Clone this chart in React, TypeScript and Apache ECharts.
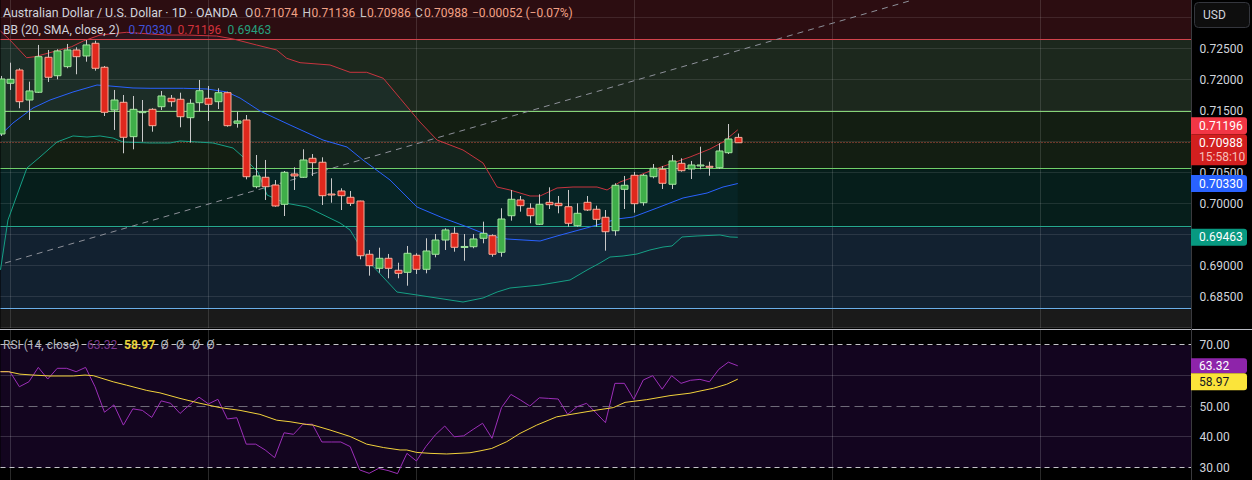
import React, { useEffect, useRef } from "react";
import * as echarts from "echarts";

// ---------- DATA ----------
const opens = [
  0.71129, 0.71947, 0.72161, 0.71677, 0.71802, 0.72366, 0.72069, 0.72215, 0.72484, 0.72387,
  0.72592, 0.72205, 0.71516, 0.7164, 0.71086, 0.71476, 0.71527, 0.71569, 0.71705, 0.71689,
  0.71392, 0.71634, 0.71705, 0.7165, 0.71795, 0.71302, 0.71355, 0.70279, 0.70431, 0.70306,
  0.69995, 0.70484, 0.70431, 0.70737, 0.70673, 0.70161, 0.7021, 0.70108, 0.70048, 0.69189,
  0.68963, 0.69124, 0.68931, 0.68898, 0.69173, 0.68947, 0.69189, 0.69419, 0.69527, 0.69306,
  0.69311, 0.69447, 0.69489, 0.69221, 0.69811, 0.70065, 0.69931, 0.69673, 0.70027, 0.70011,
  0.69956, 0.6965, 0.70027, 0.69915, 0.69786, 0.69569, 0.70237, 0.70463, 0.70021, 0.7044,
  0.7056, 0.70318, 0.70656, 0.70565, 0.70624, 0.70608, 0.70585, 0.70827, 0.71074,
];
const highs = [
  0.72065, 0.72279, 0.72189, 0.71973, 0.72565, 0.72484, 0.72495, 0.72581, 0.72527, 0.72645,
  0.72634, 0.72226, 0.71839, 0.71758, 0.71742, 0.71677, 0.71544, 0.71823, 0.71758, 0.71795,
  0.71689, 0.72, 0.71903, 0.71866, 0.71811, 0.71489, 0.71435, 0.7079, 0.7071, 0.70387,
  0.70532, 0.70592, 0.70882, 0.70806, 0.70753, 0.70414, 0.70253, 0.7021, 0.70053, 0.69258,
  0.69295, 0.69194, 0.69053, 0.69323, 0.69205, 0.69447, 0.69516, 0.69608, 0.69624, 0.69516,
  0.69516, 0.69715, 0.69511, 0.69931, 0.70226, 0.70129, 0.70011, 0.70156, 0.70269, 0.70129,
  0.70226, 0.70011, 0.70129, 0.69973, 0.69903, 0.70334, 0.70452, 0.70516, 0.70484, 0.70645,
  0.70613, 0.7079, 0.70737, 0.70694, 0.70924, 0.70682, 0.70979, 0.7129, 0.71136,
];
const lows = [
  0.71097, 0.71839, 0.71544, 0.71355, 0.7179, 0.71968, 0.72011, 0.72189, 0.72092, 0.72295,
  0.7215, 0.71419, 0.71194, 0.70818, 0.70882, 0.71005, 0.71166, 0.71516, 0.71569, 0.71237,
  0.70989, 0.71489, 0.71339, 0.71532, 0.71247, 0.71231, 0.70398, 0.70253, 0.70065, 0.69956,
  0.69806, 0.70226, 0.70419, 0.70452, 0.69984, 0.70021, 0.69903, 0.69968, 0.69108, 0.68844,
  0.68892, 0.68802, 0.68802, 0.68682, 0.68871, 0.68882, 0.6914, 0.69258, 0.69231, 0.69085,
  0.69286, 0.69366, 0.6915, 0.6915, 0.69731, 0.69876, 0.69689, 0.69661, 0.69919, 0.6985,
  0.69634, 0.69634, 0.69887, 0.69634, 0.69247, 0.69489, 0.69919, 0.6986, 0.69973, 0.70414,
  0.70242, 0.70242, 0.70521, 0.70403, 0.7056, 0.70456, 0.70565, 0.70806, 0.70986,
];
const closes = [
  0.72016, 0.72011, 0.7165, 0.71823, 0.72376, 0.72044, 0.72468, 0.72484, 0.72376, 0.72565,
  0.72189, 0.71479, 0.71677, 0.71076, 0.71527, 0.71489, 0.71263, 0.71742, 0.7165, 0.71408,
  0.71624, 0.71827, 0.71608, 0.71795, 0.71263, 0.71339, 0.7044, 0.70452, 0.70279, 0.69968,
  0.70511, 0.70452, 0.7071, 0.70666, 0.70134, 0.70156, 0.70134, 0.70011, 0.69166, 0.69005,
  0.69124, 0.68963, 0.68882, 0.69205, 0.68947, 0.69242, 0.69419, 0.69581, 0.69302, 0.69315,
  0.69436, 0.69527, 0.69189, 0.69758, 0.70076, 0.69973, 0.69811, 0.69995, 0.69989, 0.69973,
  0.69689, 0.6985, 0.69903, 0.69753, 0.69553, 0.70302, 0.70302, 0.70005, 0.70463, 0.70576,
  0.70334, 0.70694, 0.70537, 0.70629, 0.70629, 0.70597, 0.70855, 0.71048, 0.70988,
];

// Bollinger Bands (20, SMA, close, 2): [bar index, price]
const bbUpper = [
  [0, 0.7279], [1.0, 0.72645], [2.77, 0.72359], [3.65, 0.72376], [5.59, 0.72456], [7.53, 0.72537],
  [8.76, 0.72629], [10.53, 0.72725], [12.29, 0.72753], [13.35, 0.72769], [14.76, 0.72753],
  [17.58, 0.72725], [19.7, 0.72725], [22.87, 0.72709], [24.63, 0.72661], [27.1, 0.72564],
  [29.22, 0.72484], [30.28, 0.7235], [31.69, 0.72279], [34.86, 0.72242], [36.98, 0.72124],
  [38.74, 0.72124], [40.5, 0.72027], [42.27, 0.71705], [44.38, 0.71322], [46.18, 0.71032],
  [48.93, 0.70871], [51.05, 0.70661], [52.53, 0.70274], [53.9, 0.70226], [54.96, 0.70177],
  [56.02, 0.70129], [57.08, 0.70129], [58.88, 0.70258], [60.57, 0.70274], [63.11, 0.70274],
  [64.17, 0.70226], [65.54, 0.70355], [67.66, 0.70468], [68.71, 0.70532], [70.51, 0.70629],
  [72.95, 0.70758], [75.06, 0.70887], [76.44, 0.71], [78, 0.71196],
];
const bbMiddle = [
  [0, 0.71113], [1.32, 0.71306], [3.44, 0.71548], [5.24, 0.71677], [7.67, 0.71806], [10.21, 0.71919],
  [11.58, 0.71903], [14.02, 0.71871], [15.82, 0.71866], [19.34, 0.71866], [21.85, 0.71855],
  [23.96, 0.71806], [25.34, 0.71709], [27.45, 0.715], [30.63, 0.71274], [34.12, 0.71032],
  [36.66, 0.70919], [38.35, 0.70709], [41.21, 0.70387], [44.07, 0.69951], [46.82, 0.69774],
  [49.67, 0.69613], [51.79, 0.69484], [53.59, 0.69435], [57.08, 0.69403], [58.88, 0.69484],
  [62.37, 0.69629], [65.23, 0.69758], [66.92, 0.6979], [69.45, 0.69935], [72.21, 0.70097],
  [74.75, 0.70177], [76.44, 0.70274], [78, 0.7033],
];
const bbLower = [
  [0, 0.68938], [0.79, 0.69742], [2.06, 0.70274], [2.8, 0.7058], [4.18, 0.70758], [5.98, 0.71],
  [7.67, 0.71097], [9.15, 0.7108], [10.53, 0.71097], [11.9, 0.71064], [12.96, 0.71],
  [15.82, 0.70984], [17.93, 0.70984], [18.99, 0.71016], [22.48, 0.70984], [24.6, 0.70903],
  [25.66, 0.70758], [27.24, 0.70516], [28.2, 0.70145], [30.1, 0.70016], [32.43, 0.69951],
  [35.92, 0.69693], [36.98, 0.6958], [39.09, 0.69048], [41.95, 0.6858], [44.07, 0.68532],
  [48.93, 0.68419], [51.05, 0.68484], [52.53, 0.6858], [53.9, 0.68645], [57.08, 0.68693],
  [60.25, 0.68774], [62.05, 0.68935], [63.42, 0.69048], [64.48, 0.69145], [65.86, 0.69161],
  [67.34, 0.69193], [68.71, 0.69258], [70.09, 0.69306], [71.04, 0.69323], [72.1, 0.69468],
  [73.69, 0.69484], [76.12, 0.695], [77.18, 0.69468], [78, 0.69463],
];

// RSI (14, close), one value per bar
const rsiValues = [
  61.4, 61.4, 56.5, 58.1, 62.8, 59.0, 62.5, 62.5, 61.4, 62.8,
  56.5, 48.2, 50.6, 44.0, 49.3, 48.8, 46.5, 51.9, 51.1, 47.8,
  50.6, 53.1, 50.9, 52.4, 46.0, 46.4, 37.8, 37.8, 35.9, 33.4,
  41.5, 41.0, 44.3, 44.3, 38.5, 38.5, 38.5, 37.0, 29.4, 28.3,
  29.9, 29.2, 28.2, 34.8, 32.3, 37.0, 40.8, 43.7, 40.2, 40.5,
  42.6, 44.6, 39.7, 49.7, 54.0, 52.2, 50.2, 52.9, 52.7, 52.5,
  47.5, 50.0, 51.1, 48.0, 44.8, 57.6, 57.6, 52.4, 58.7, 60.1,
  55.7, 60.1, 57.6, 58.6, 58.9, 58.1, 62.2, 64.5, 63.32,
];
// RSI-based MA: [bar index, value]
const rsiMa = [
  [0, 61.4], [0.83, 61.4], [2.06, 60.6], [3.47, 60.3], [5.24, 60.0], [7.7, 60.0], [8.94, 60.3],
  [9.82, 60.1], [11.93, 58.1], [13.35, 57.0], [15.47, 55.3], [16.87, 54.5], [18.99, 52.7],
  [21.11, 51.1], [23.22, 49.7], [25.34, 48.8], [27.45, 47.5], [29.22, 45.6], [30.63, 45.1],
  [32.4, 44.2], [33.09, 44.0], [34.86, 42.4], [36.98, 40.3], [38.74, 37.8], [40.5, 36.7],
  [42.27, 35.9], [42.98, 35.9], [44.03, 35.1], [45.44, 34.8], [47.21, 34.6], [49.67, 35.0],
  [50.73, 35.6], [51.97, 36.4], [53.56, 38.6], [54.96, 41.3], [56.73, 44.0], [58.84, 46.7],
  [61.31, 48.0], [63.08, 48.9], [64.83, 49.7], [66.07, 51.4], [68.37, 52.3], [70.83, 53.6],
  [72.95, 54.4], [74.0, 55.1], [75.41, 56.0], [76.83, 57.3], [78, 58.97],
];

// Drawn levels / zones (prices), trend line, grid levels
const zoneTops = [0.7329, 0.72645, 0.7149, 0.70559, 0.69624, 0.68301];
const zoneBottoms = [0.72645, 0.7149, 0.70559, 0.69624, 0.68301, 0.68];
const levelPrices = [0.72645, 0.7149, 0.70559, 0.69624, 0.68301];
const trendLine = [[0.48, 0.69048], [96.5, 0.7329]];
const priceGrid = [0.68, 0.685, 0.69, 0.695, 0.7, 0.705, 0.71, 0.715, 0.72, 0.725, 0.73];
const priceLabels = [0.685, 0.69, 0.695, 0.7, 0.705, 0.71, 0.715, 0.72, 0.725];
const monthStarts = [1, 22, 44, 67, 88, 110];
const rsiLevels = [70, 60, 50, 40, 30];
const rsiLabels = [70, 50, 40, 30];

const lastPrice = 0.70988;
const bbLast = { middle: 0.7033, upper: 0.71196, lower: 0.69463 };
const rsiLast = 63.32;
const rsiMaLast = 58.97;

// ---------- STYLE ----------
const FONT = "Roboto";
const zoneColors = ["#2c0d11", "#1c281d", "#131e12", "#061e1b", "#122130", "#1a1a1a"];
const levelColors = ["#d2434c", "#86d478", "#6fcf6a", "#26a98f", "#6aaee8"];
const UP_FILL = "#3fae49";
const UP_EDGE = "#a3e49f";
const DN_FILL = "#e0281d";
const DN_EDGE = "#f7ad9b";
const WICK = "#c9c9c9";
const X_MAX = 126;
const P_MIN = 0.68;
const P_MAX = 0.7329;
const R_MIN = 26.12;
const R_MAX = 74.98;

const hLine = (xAxisIndex: number, yAxisIndex: number, data: number[], styleOf: (v: number, i: number) => any) => ({
  type: "custom",
  xAxisIndex,
  yAxisIndex,
  z: 3,
  silent: true,
  data: data.map((v) => [0, v]),
  encode: { x: 0, y: 1 },
  renderItem: (params: any, api: any) => {
    const v = api.value(1);
    const a = api.coord([0, v]);
    const b = api.coord([X_MAX, v]);
    const y = Math.round(a[1]) - 0.5;
    return { type: "line", shape: { x1: a[0], y1: y, x2: b[0], y2: y }, style: styleOf(v, params.dataIndex) };
  },
});

export default function App() {
  const ref = useRef<HTMLDivElement>(null);

  useEffect(() => {
    const chart = echarts.init(ref.current as HTMLDivElement, null, { renderer: "svg" });

    const candleData = opens.map((o, i) => [i, o, closes[i], lows[i], highs[i]]);
    const zoneData = zoneTops.map((t, i) => [0, t, zoneBottoms[i]]);

    const option: any = {
      animation: false,
      backgroundColor: "#000000",
      grid: [
        { left: 0.5, top: 0, width: 1191, height: 328, containLabel: false },
        { left: 0.5, top: 330, width: 1191, height: 150, containLabel: false },
      ],
      xAxis: [
        { type: "value", gridIndex: 0, min: 0, max: X_MAX, show: false },
        { type: "value", gridIndex: 1, min: 0, max: X_MAX, show: false },
      ],
      yAxis: [
        {
          type: "value",
          gridIndex: 0,
          position: "right",
          min: P_MIN,
          max: P_MAX,
          interval: 0.005,
          z: 3,
          axisLine: { show: false },
          axisTick: { show: false },
          splitLine: { show: false },
          axisLabel: {
            margin: 8,
            color: "#d1d4dc",
            fontFamily: FONT,
            fontSize: 12,
            formatter: (v: number) =>
              priceLabels.some((p) => Math.abs(p - v) < 1e-7) ? v.toFixed(5) : "",
          },
        },
        {
          type: "value",
          gridIndex: 1,
          position: "right",
          min: R_MIN,
          max: R_MAX,
          splitNumber: 5,
          z: 3,
          axisLine: { show: false },
          axisTick: { show: false },
          splitLine: { show: false },
          axisLabel: {
            margin: 8,
            color: "#d1d4dc",
            fontFamily: FONT,
            fontSize: 12,
            formatter: (v: number) =>
              rsiLabels.some((p) => Math.abs(p - v) < 1e-7) ? v.toFixed(2) : "",
          },
        },
      ],
      series: [
        // coloured zones
        {
          type: "custom",
          xAxisIndex: 0,
          yAxisIndex: 0,
          z: 1,
          silent: true,
          data: zoneData,
          encode: { x: 0, y: [1, 2] },
          renderItem: (params: any, api: any) => {
            const a = api.coord([0, api.value(1)]);
            const b = api.coord([X_MAX, api.value(2)]);
            return {
              type: "rect",
              shape: { x: a[0], y: a[1], width: b[0] - a[0], height: b[1] - a[1] },
              style: { fill: zoneColors[params.dataIndex] },
            };
          },
        },
        // RSI band background
        {
          type: "custom",
          xAxisIndex: 1,
          yAxisIndex: 1,
          z: 1,
          silent: true,
          data: [[0, 70, 30]],
          encode: { x: 0, y: [1, 2] },
          renderItem: (params: any, api: any) => {
            const a = api.coord([0, api.value(1)]);
            const b = api.coord([X_MAX, api.value(2)]);
            return {
              type: "rect",
              shape: { x: a[0], y: a[1], width: b[0] - a[0], height: b[1] - a[1] },
              style: { fill: "#13051f" },
            };
          },
        },
        // price grid lines
        hLine(0, 0, priceGrid, () => ({ stroke: "rgba(255,255,255,0.1)", lineWidth: 1 })),
        // vertical month lines (main)
        {
          type: "custom",
          xAxisIndex: 0,
          yAxisIndex: 0,
          z: 3,
          silent: true,
          data: monthStarts.map((m) => [m]),
          encode: { x: 0 },
          renderItem: (params: any, api: any) => {
            const a = api.coord([api.value(0), P_MAX]);
            const b = api.coord([api.value(0), P_MIN]);
            const x = Math.round(a[0]) + 0.5;
            return {
              type: "line",
              shape: { x1: x, y1: a[1], x2: x, y2: b[1] },
              style: { stroke: "rgba(255,255,255,0.13)", lineWidth: 1 },
            };
          },
        },
        // vertical month lines (RSI)
        {
          type: "custom",
          xAxisIndex: 1,
          yAxisIndex: 1,
          z: 3,
          silent: true,
          data: monthStarts.map((m) => [m]),
          encode: { x: 0 },
          renderItem: (params: any, api: any) => {
            const a = api.coord([api.value(0), R_MAX]);
            const b = api.coord([api.value(0), R_MIN]);
            const x = Math.round(a[0]) + 0.5;
            return {
              type: "line",
              shape: { x1: x, y1: a[1], x2: x, y2: b[1] },
              style: { stroke: "rgba(255,255,255,0.16)", lineWidth: 1 },
            };
          },
        },
        // RSI horizontal levels
        hLine(1, 1, rsiLevels, (v: number) => {
          if (v === 70 || v === 30) return { stroke: "#c4c4c8", lineWidth: 1, lineDash: [5, 4] };
          if (v === 50) return { stroke: "#6e6a78", lineWidth: 1, lineDash: [9, 5] };
          return { stroke: "rgba(255,255,255,0.16)", lineWidth: 1 };
        }),
        // BB background fill
        {
          type: "custom",
          xAxisIndex: 0,
          yAxisIndex: 0,
          z: 2,
          silent: true,
          data: [[0, 0.7]],
          encode: { x: 0, y: 1 },
          renderItem: (params: any, api: any) => {
            const pts: number[][] = [];
            bbUpper.forEach((p) => pts.push(api.coord(p)));
            for (let k = bbLower.length - 1; k >= 0; k--) pts.push(api.coord(bbLower[k]));
            return { type: "polygon", shape: { points: pts }, style: { fill: "rgba(33,150,243,0.05)" } };
          },
        },
        // drawn horizontal levels
        hLine(0, 0, levelPrices, (v: number, i: number) => ({ stroke: levelColors[i], lineWidth: 1 })),
        // last price dotted line
        hLine(0, 0, [lastPrice], () => ({ stroke: "#c9503f", lineWidth: 1, lineDash: [1, 2] })),
        // trend line
        {
          type: "line",
          xAxisIndex: 0,
          yAxisIndex: 0,
          z: 4,
          silent: true,
          symbol: "none",
          data: trendLine,
          lineStyle: { color: "#8d9099", width: 1, type: [6, 5] },
        },
        // BB lines
        {
          type: "line",
          xAxisIndex: 0,
          yAxisIndex: 0,
          z: 4,
          silent: true,
          symbol: "none",
          data: bbUpper,
          lineStyle: { color: "#c8343f", width: 1 },
        },
        {
          type: "line",
          xAxisIndex: 0,
          yAxisIndex: 0,
          z: 4,
          silent: true,
          symbol: "none",
          data: bbMiddle,
          lineStyle: { color: "#2962ff", width: 1 },
        },
        {
          type: "line",
          xAxisIndex: 0,
          yAxisIndex: 0,
          z: 4,
          silent: true,
          symbol: "none",
          data: bbLower,
          lineStyle: { color: "#16a085", width: 1 },
        },
        // candles
        {
          type: "custom",
          xAxisIndex: 0,
          yAxisIndex: 0,
          z: 5,
          silent: true,
          clip: true,
          data: candleData,
          encode: { x: 0, y: [1, 2, 3, 4] },
          renderItem: (params: any, api: any) => {
            const i = api.value(0);
            const o = api.value(1);
            const c = api.value(2);
            const l = api.value(3);
            const h = api.value(4);
            const pO = api.coord([i, o]);
            const pC = api.coord([i, c]);
            const pH = api.coord([i, h]);
            const pL = api.coord([i, l]);
            const x = Math.round(pO[0]) + 0.5;
            const up = c >= o;
            const top = Math.min(pO[1], pC[1]);
            const bot = Math.max(pO[1], pC[1]);
            const hh = Math.max(bot - top, 1);
            return {
              type: "group",
              children: [
                {
                  type: "line",
                  shape: { x1: x, y1: pH[1], x2: x, y2: pL[1] },
                  style: { stroke: WICK, lineWidth: 1 },
                },
                {
                  type: "rect",
                  shape: { x: x - 3.5, y: top, width: 7, height: hh },
                  style: {
                    fill: up ? UP_FILL : DN_FILL,
                    stroke: up ? UP_EDGE : DN_EDGE,
                    lineWidth: 1,
                  },
                },
              ],
            };
          },
        },
        // RSI
        {
          type: "line",
          xAxisIndex: 1,
          yAxisIndex: 1,
          z: 4,
          silent: true,
          symbol: "none",
          data: rsiValues.map((v, i) => [i, v]),
          lineStyle: { color: "#9c2fb8", width: 1 },
        },
        {
          type: "line",
          xAxisIndex: 1,
          yAxisIndex: 1,
          z: 4,
          silent: true,
          symbol: "none",
          data: rsiMa,
          lineStyle: { color: "#f2d23c", width: 1 },
        },
      ],
    };

    chart.setOption(option);

    const py = (v: number) => chart.convertToPixel({ yAxisIndex: 0 }, v) as unknown as number;
    const ry = (v: number) => chart.convertToPixel({ yAxisIndex: 1 }, v) as unknown as number;

    const txt = (x: number, y: number, text: string, fill: string, extra: any = {}) => ({
      type: "text",
      x,
      y,
      z: 100,
      silent: true,
      style: {
        text,
        fill,
        fontFamily: FONT,
        fontSize: 12,
        align: "left",
        verticalAlign: "middle",
        textAlign: "left",
        textVerticalAlign: "middle",
        ...extra,
      },
    });

    const tagBox = (top: number, h: number, bg: string) => ({
      type: "rect",
      z: 99,
      silent: true,
      shape: { x: 1191, y: top, width: 56, height: h, r: [0, 3, 3, 0] },
      style: { fill: bg },
    });

    const yLast = py(lastPrice);
    const cdTop = yLast - 8.5;
    const upTop = Math.min(py(bbLast.upper) - 8.5, cdTop - 17);
    const yMid = py(bbLast.middle);
    const yLow = py(bbLast.lower);
    const yR = ry(rsiLast);
    const rTop = yR - 7.5;
    const yM = ry(rsiMaLast);
    const mTop = Math.max(yM - 8, rTop + 15);

    const valColor = "#f3a286";
    const graphic: any[] = [
      // header
      txt(3, 12.5, "Australian Dollar / U.S. Dollar · 1D · OANDA", "#d1d4dc", { fontSize: 12.4 }),
      txt(245, 12.5, "O", "#c9c9cc"),
      txt(254, 12.5, opens[opens.length - 1].toFixed(5), valColor),
      txt(302.5, 12.5, "H", "#c9c9cc"),
      txt(311.5, 12.5, highs[highs.length - 1].toFixed(5), valColor),
      txt(360, 12.5, "L", "#c9c9cc"),
      txt(367, 12.5, lows[lows.length - 1].toFixed(5), valColor),
      txt(415, 12.5, "C", "#c9c9cc"),
      txt(424, 12.5, closes[closes.length - 1].toFixed(5), valColor),
      txt(472, 12.5, "−0.00052 (−0.07%)", valColor),
      txt(3, 30, "BB (20, SMA, close, 2)", "#d1d4dc"),
      txt(128.5, 30, bbLast.middle.toFixed(5), "#3f51d9"),
      txt(177.5, 30, bbLast.upper.toFixed(5), "#d3323c"),
      txt(227.5, 30, bbLast.lower.toFixed(5), "#26a07e"),
      // RSI legend
      txt(3, 345, "RSI (14, close)", "#b2b5be"),
      txt(87, 345, rsiLast.toFixed(2), "#7c3a8e"),
      txt(124, 345, rsiMaLast.toFixed(2), "#e8d23a", { fontWeight: "bold" }),
      txt(160.5, 345, "Ø", "#b2b5be"),
      txt(176, 345, "Ø", "#b2b5be"),
      txt(192, 345, "Ø", "#b2b5be"),
      txt(206.5, 345, "Ø", "#b2b5be"),
      // separators
      {
        type: "line",
        z: 98,
        silent: true,
        shape: { x1: 0, y1: 329.5, x2: 1252, y2: 329.5 },
        style: { stroke: "#b8bac2", lineWidth: 1 },
      },
      {
        type: "line",
        z: 98,
        silent: true,
        shape: { x1: 1191.5, y1: 0, x2: 1191.5, y2: 480 },
        style: { stroke: "#3a3a3e", lineWidth: 1 },
      },
      // USD button
      {
        type: "rect",
        z: 99,
        silent: true,
        shape: { x: 1194.5, y: 2.5, width: 55, height: 25, r: 4 },
        style: { fill: "#0e0e0e", stroke: "#34363d", lineWidth: 1 },
      },
      txt(1203, 15, "USD", "#d1d4dc"),
      // price tags
      tagBox(upTop, 17, "#f23645"),
      txt(1199, upTop + 8.5, bbLast.upper.toFixed(5), "#ffffff"),
      tagBox(cdTop, 31, "#d21f1f"),
      txt(1199, yLast, lastPrice.toFixed(5), "#ffffff"),
      txt(1199, yLast + 14, "15:58:10", "#f6c0bc"),
      tagBox(yMid - 8.5, 17, "#2962ff"),
      txt(1199, yMid, bbLast.middle.toFixed(5), "#ffffff"),
      tagBox(yLow - 8.5, 17, "#089981"),
      txt(1199, yLow, bbLast.lower.toFixed(5), "#ffffff"),
      tagBox(rTop, 15, "#8e24aa"),
      txt(1199, yR, rsiLast.toFixed(2), "#ffffff"),
      tagBox(mTop, 17, "#fbe43a"),
      txt(1199, mTop + 8.5, rsiMaLast.toFixed(2), "#131722"),
    ];

    chart.setOption({ graphic });

    return () => {
      chart.dispose();
    };
  }, []);

  return (
    <div
      ref={ref}
      style={{ position: "fixed", left: 0, top: 0, width: 1252, height: 480, background: "#000" }}
    />
  );
}
